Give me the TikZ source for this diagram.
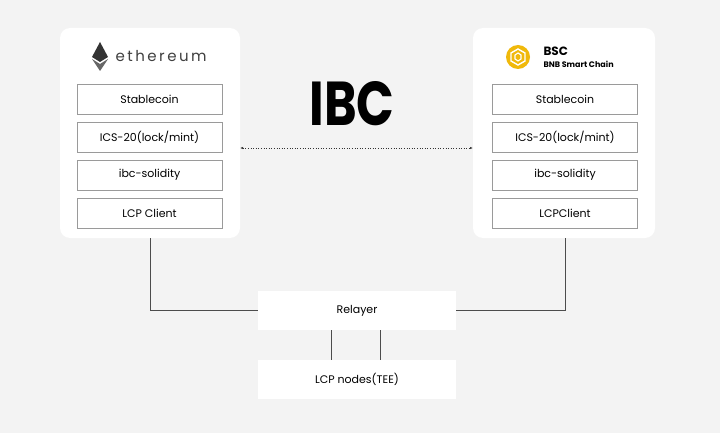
\documentclass[tikz,border=0pt]{standalone}
\usepackage{fontspec}
\setmainfont{Poppins}
\usetikzlibrary{positioning,arrows.meta}
\definecolor{bggray}{HTML}{F3F3F3}
\definecolor{boxline}{HTML}{9A9A9A}
\definecolor{bnbyellow}{HTML}{F0B90B}
\tikzset{
  panel/.style={fill=white,rounded corners=10pt,draw=none},
  layer/.style={draw=boxline,line width=0.6pt,fill=white,minimum width=145pt,minimum height=30pt,inner sep=0pt,font=\fontsize{11}{13}\selectfont},
  wide/.style={fill=white,minimum width=198pt,minimum height=39pt,inner sep=0pt,font=\fontsize{11}{13}\selectfont},
  wire/.style={draw=black!70,line width=0.7pt}
}
\begin{document}
\begin{tikzpicture}[x=1pt,y=-1pt]
\useasboundingbox (0,0) rectangle (720,433);
\fill[bggray] (0,0) rectangle (720,433);
% chain panels
\path[panel] (60,28) rectangle (240,238);
\path[panel] (473,28) rectangle (655,238);
% ethereum header
\fill[black!80] (100,42) -- (108,57) -- (100,62) -- (92,57) -- cycle;
\fill[black!60] (92,59) -- (100,64) -- (108,59) -- (100,71) -- cycle;
\node[anchor=west,font=\fontsize{15}{17}\selectfont,text=black!75] (ethname) at (112,56) {e\,t\,h\,e\,r\,e\,u\,m};
% bsc header
\fill[bnbyellow] (518,57) circle (12);
\draw[white,line width=1.4pt] (518,49) -- (525,53) -- (525,61) -- (518,65) -- (511,61) -- (511,53) -- cycle;
\draw[white,line width=1.1pt] (518,53) -- (521,55) -- (521,59) -- (518,61) -- (515,59) -- (515,55) -- cycle;
\node[anchor=west,font=\fontsize{12}{14}\selectfont\bfseries] (bscname) at (540,51) {BSC};
\node[anchor=west,font=\fontsize{8}{10}\selectfont\bfseries] (bscsub) at (540,64) {BNB Smart Chain};
% left stack
\node[layer] (eth1) at (149.5,99) {Stablecoin};
\node[layer,below=7.5pt of eth1] (eth2) {ICS-20(lock/mint)};
\node[layer,below=7.5pt of eth2] (eth3) {ibc-solidity};
\node[layer,below=7.5pt of eth3] (eth4) {LCP Client};
% right stack
\node[layer] (bsc1) at (565,99) {Stablecoin};
\node[layer,below=7.5pt of bsc1] (bsc2) {ICS-20(lock/mint)};
\node[layer,below=7.5pt of bsc2] (bsc3) {ibc-solidity};
\node[layer,below=7.5pt of bsc3] (bsc4) {LCPClient};
% IBC logo
\node[font=\fontsize{62}{64}\selectfont\bfseries,xscale=0.8] (ibc) at (352,104) {IBC};
\coordinate (ethedge) at (240,148);
\coordinate (bscedge) at (473,148);
\draw[black!80,line width=0.6pt,dotted,{Latex[length=3pt]}-{Latex[length=3pt]}] (ethedge) -- (bscedge);
% relayer and lcp
\node[wide] (relayer) at (357,310.5) {Relayer};
\node[wide] (lcp) at (357,379.5) {LCP nodes(TEE)};
\coordinate (ethfoot) at (150,238);
\coordinate (bscfoot) at (565,238);
\draw[wire] (ethfoot) |- (relayer.west);
\draw[wire] (bscfoot) |- (relayer.east);
\draw[wire] ([xshift=-26pt]relayer.south) -- ([xshift=-26pt]lcp.north);
\draw[wire] ([xshift=23pt]relayer.south) -- ([xshift=23pt]lcp.north);
\end{tikzpicture}
\end{document}
